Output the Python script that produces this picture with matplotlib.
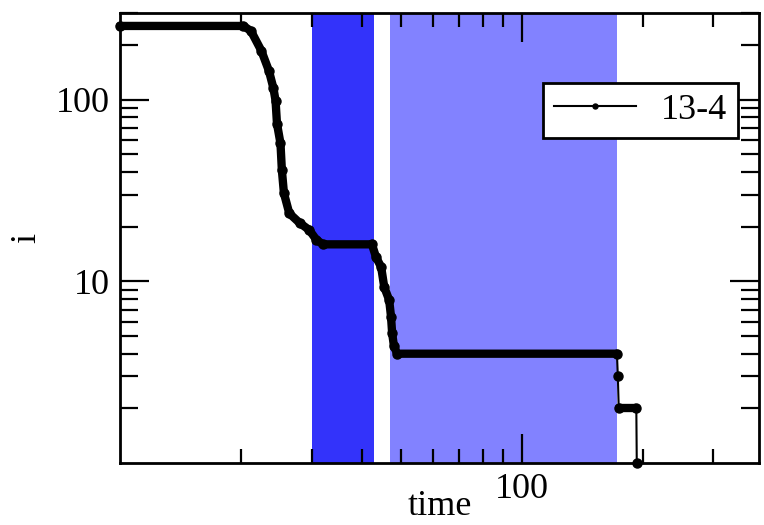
import matplotlib
matplotlib.use("Agg")
import matplotlib.pyplot as plt

# series "13-4": i against time
time = [10, 20.3, 21.2, 22.5, 23.5, 24.1, 24.4, 24.6, 25.1, 25.3, 25.6, 26.4,
        28.0, 29.6, 30.8, 32.0, 42.4, 43.4, 44.7, 45.5, 46.8, 47.3, 47.6, 48.1,
        49.0, 172.7, 173.6, 174.5, 193.0, 193.5]
i_val = [255, 255, 239, 186, 144, 116, 99, 74, 57.5, 41, 30.6, 23.7,
         21, 19.2, 17, 16, 16, 13.6, 12, 9.3, 7.9, 6.4, 5.2, 4.4,
         4, 4, 3, 2, 2, 1]
series_label = "13-4"

# shaded time windows (start, end)
dark_span = (30, 43)
light_span = (47, 173)

x_ticks = [100]
y_ticks = [10, 100]

plt.rcParams['font.family'] = ['Liberation Serif', 'DejaVu Serif']

fig = plt.figure(figsize=(7.64, 5.25), dpi=100)
ax = fig.add_axes([0.157, 0.118, 0.8365, 0.857])
ax.set_xscale('log')
ax.set_yscale('log')

ax.axvspan(*dark_span, color='#3333fa', lw=0, zorder=0.5)
ax.axvspan(*light_span, color='#8282ff', lw=0, zorder=0.5)

# thin line with markers (this is the legend entry)
ax.plot(time, i_val, color='k', lw=1.5, marker='o', ms=6.5,
        label=series_label, clip_on=False, zorder=3)
# dense markers look like a thick trace on the plateaus / drops
ax.plot(time[:26], i_val[:26], color='k', lw=6, solid_capstyle='round',
        solid_joinstyle='round', clip_on=False, zorder=3)
ax.plot(time[27:29], i_val[27:29], color='k', lw=6, solid_capstyle='round',
        clip_on=False, zorder=3)

ax.set_xlim(10, 390)
ax.set_ylim(1, 300)

ax.set_xticks(x_ticks)
ax.set_xticklabels([str(v) for v in x_ticks])
ax.set_yticks(y_ticks)
ax.set_yticklabels([str(v) for v in y_ticks])

for sp in ax.spines.values():
    sp.set_linewidth(2)
ax.tick_params(which='both', direction='in', top=True, right=True,
               width=1.6, labelsize=26, pad=7)
ax.tick_params(which='major', length=21)
ax.tick_params(axis='y', which='minor', length=13)
ax.tick_params(axis='x', which='minor', length=10)

ax.set_xlabel('time', fontsize=26)
ax.xaxis.set_label_coords(0.5, -0.06)
ax.set_ylabel('i', fontsize=26)
ax.yaxis.set_label_coords(-0.12, 0.5)

leg = ax.legend(loc='upper right', bbox_to_anchor=(0.967, 0.845),
                borderaxespad=0, fontsize=26, frameon=True, fancybox=False,
                framealpha=1, edgecolor='k', borderpad=0.3,
                handlelength=2.25, handletextpad=0.7, markerscale=0.55)
leg.get_frame().set_linewidth(2)

fig.savefig('out.png', dpi=100)
